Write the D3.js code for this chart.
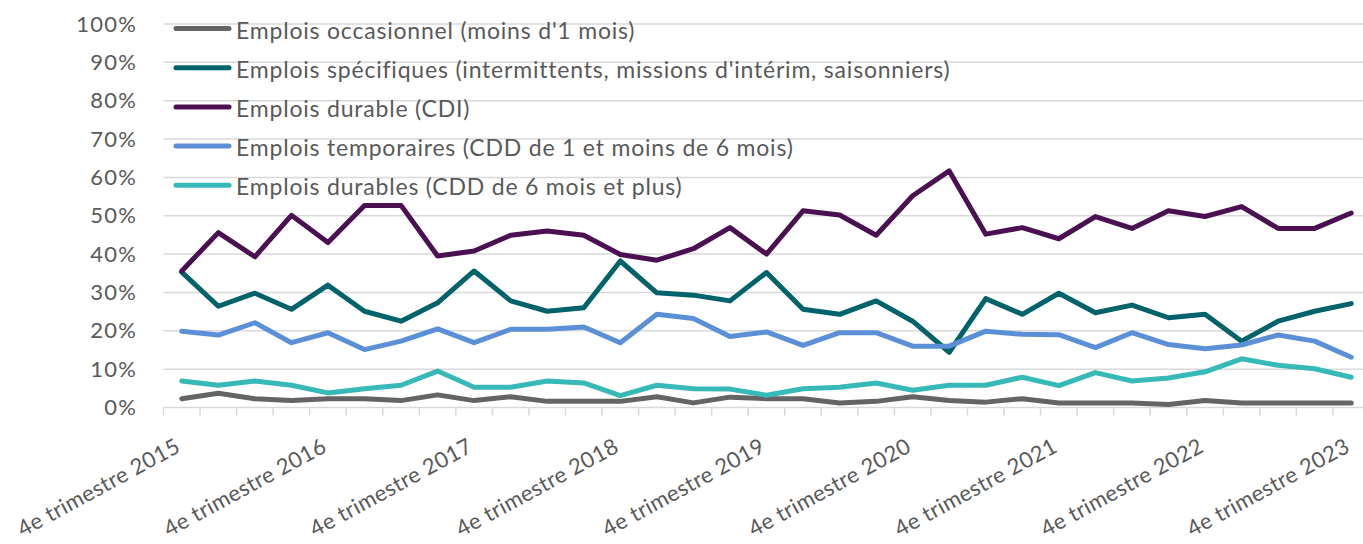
<!DOCTYPE html>
<meta charset="utf-8">
<style>
  body { margin: 0; background: #fff; }
  text { font-family: Lato, "Noto Sans", sans-serif; fill: #595959; }
</style>
<body>
<script src="https://cdn.jsdelivr.net/npm/d3@7"></script>
<script>

var quarters = [
  "4e trimestre 2015",
  "1er trimestre 2016", "2e trimestre 2016", "3e trimestre 2016", "4e trimestre 2016",
  "1er trimestre 2017", "2e trimestre 2017", "3e trimestre 2017", "4e trimestre 2017",
  "1er trimestre 2018", "2e trimestre 2018", "3e trimestre 2018", "4e trimestre 2018",
  "1er trimestre 2019", "2e trimestre 2019", "3e trimestre 2019", "4e trimestre 2019",
  "1er trimestre 2020", "2e trimestre 2020", "3e trimestre 2020", "4e trimestre 2020",
  "1er trimestre 2021", "2e trimestre 2021", "3e trimestre 2021", "4e trimestre 2021",
  "1er trimestre 2022", "2e trimestre 2022", "3e trimestre 2022", "4e trimestre 2022",
  "1er trimestre 2023", "2e trimestre 2023", "3e trimestre 2023", "4e trimestre 2023"
];

var shownLabels = [
  "4e trimestre 2015", "4e trimestre 2016", "4e trimestre 2017", "4e trimestre 2018",
  "4e trimestre 2019", "4e trimestre 2020", "4e trimestre 2021", "4e trimestre 2022",
  "4e trimestre 2023"
];

var yTicks = [0, 10, 20, 30, 40, 50, 60, 70, 80, 90, 100];

// percentages
var occasionnel = [2.3, 3.7, 2.3, 1.8, 2.3, 2.3, 1.8, 3.3, 1.8, 2.8, 1.6, 1.6, 1.6, 2.8, 1.2, 2.7,
  2.3, 2.3, 1.2, 1.6, 2.8, 1.8, 1.4, 2.3, 1.2, 1.2, 1.2, 0.8, 1.8, 1.2, 1.2, 1.2, 1.2];
var specifiques = [35.3, 26.4, 29.8, 25.6, 31.9, 25.1, 22.5, 27.3, 35.6, 27.8, 25.1, 26.0, 38.2, 29.9, 29.3, 27.8,
  35.2, 25.6, 24.3, 27.8, 22.5, 14.4, 28.4, 24.3, 29.8, 24.7, 26.7, 23.4, 24.3, 17.3, 22.5, 25.1, 27.1];
var cdi = [35.6, 45.6, 39.3, 50.1, 43.0, 52.7, 52.7, 39.5, 40.8, 44.9, 46.0, 44.9, 39.9, 38.4, 41.4, 46.9,
  40.0, 51.3, 50.2, 44.9, 55.2, 61.7, 45.2, 46.9, 44.0, 49.8, 46.7, 51.3, 49.8, 52.4, 46.7, 46.7, 50.7];
var temporaires = [19.9, 18.9, 22.1, 16.9, 19.5, 15.1, 17.3, 20.5, 16.9, 20.4, 20.4, 21.0, 16.9, 24.3, 23.2, 18.5,
  19.7, 16.2, 19.5, 19.5, 16.0, 16.0, 19.9, 19.1, 19.0, 15.6, 19.5, 16.4, 15.3, 16.3, 18.9, 17.3, 13.1];
var cdd6 = [6.9, 5.8, 6.9, 5.8, 3.8, 4.9, 5.8, 9.5, 5.3, 5.3, 6.9, 6.4, 3.1, 5.8, 4.9, 4.8,
  3.2, 4.9, 5.3, 6.4, 4.5, 5.8, 5.8, 7.9, 5.7, 9.1, 6.9, 7.7, 9.3, 12.7, 11.0, 10.1, 7.9];

var series = [
  {name: "Emplois occasionnel (moins d'1 mois)", values: occasionnel, color: "#646464"},
  {name: "Emplois spécifiques (intermittents, missions d'intérim, saisonniers)", values: specifiques, color: "#00626b"},
  {name: "Emplois durable (CDI)", values: cdi, color: "#4a1052"},
  {name: "Emplois temporaires (CDD de 1 et moins de 6 mois)", values: temporaires, color: "#5b90d8"},
  {name: "Emplois durables (CDD de 6 mois et plus)", values: cdd6, color: "#36b9b7"}
];

var width = 1363,
    height = 544;

var svg = d3.select("body").append("svg")
    .attr("width", width)
    .attr("height", height);

var x = d3.scaleBand()
    .domain(quarters)
    .range([163.5, 1369.5]);

var y = d3.scaleLinear()
    .domain([0, 100])
    .range([407.5, 24]);

// gridlines
svg.append("g")
  .selectAll("line")
    .data(yTicks.slice(1))
  .enter().append("line")
    .attr("x1", 163.5)
    .attr("x2", width)
    .attr("y1", function(d) { return y(d); })
    .attr("y2", function(d) { return y(d); })
    .attr("stroke", "#d9d9d9")
    .attr("stroke-width", 1.5);

// y axis labels
var yAxis = svg.append("g")
    .attr("transform", "translate(137,0)")
    .call(d3.axisLeft(y).tickValues(yTicks).tickFormat(function(d) { return d + "%"; }).tickSize(0).tickPadding(0));
yAxis.select(".domain").remove();
yAxis.selectAll("text")
    .attr("font-size", 22)
    .attr("fill", "#595959")
    .attr("letter-spacing", 1.2)
    .style("font-family", "Lato, 'Noto Sans', sans-serif");

// x axis: baseline and tick marks between categories
var xAxis = svg.append("g")
    .attr("transform", "translate(0," + y(0) + ")");
xAxis.append("line")
    .attr("x1", 163.5)
    .attr("x2", width)
    .attr("stroke", "#d9d9d9")
    .attr("stroke-width", 1.5);
xAxis.selectAll(".tk")
    .data(quarters)
  .enter().append("line")
    .attr("class", "tk")
    .attr("x1", function(d) { return x(d); })
    .attr("x2", function(d) { return x(d); })
    .attr("y1", 0)
    .attr("y2", 8)
    .attr("stroke", "#d9d9d9")
    .attr("stroke-width", 1.5);

svg.append("g")
  .selectAll("text")
    .data(shownLabels)
  .enter().append("text")
    .attr("transform", function(d) {
      return "translate(" + (x(d) + x.bandwidth() / 2) + ",451) rotate(-28.5)";
    })
    .attr("text-anchor", "end")
    .attr("font-size", 22)
    .attr("letter-spacing", 0.4)
    .text(function(d) { return d; });

// lines
var line = d3.line()
    .x(function(d, i) { return x(quarters[i]) + x.bandwidth() / 2; })
    .y(function(d) { return y(d); });

svg.append("g")
  .selectAll("path")
    .data(series)
  .enter().append("path")
    .attr("d", function(d) { return line(d.values); })
    .attr("fill", "none")
    .attr("stroke", function(d) { return d.color; })
    .attr("stroke-width", 5)
    .attr("stroke-linejoin", "round")
    .attr("stroke-linecap", "round");

// legend
var legend = svg.append("g")
  .selectAll("g")
    .data(series)
  .enter().append("g")
    .attr("transform", function(d, i) { return "translate(0," + (28.5 + i * 39.2) + ")"; });

legend.append("line")
    .attr("x1", 176)
    .attr("x2", 229)
    .attr("stroke", function(d) { return d.color; })
    .attr("stroke-width", 5)
    .attr("stroke-linecap", "round");

legend.append("text")
    .attr("x", 236)
    .attr("y", 2)
    .attr("dy", "0.35em")
    .attr("font-size", 23)
    .attr("letter-spacing", 0.8)
    .text(function(d) { return d.name; });

</script>
